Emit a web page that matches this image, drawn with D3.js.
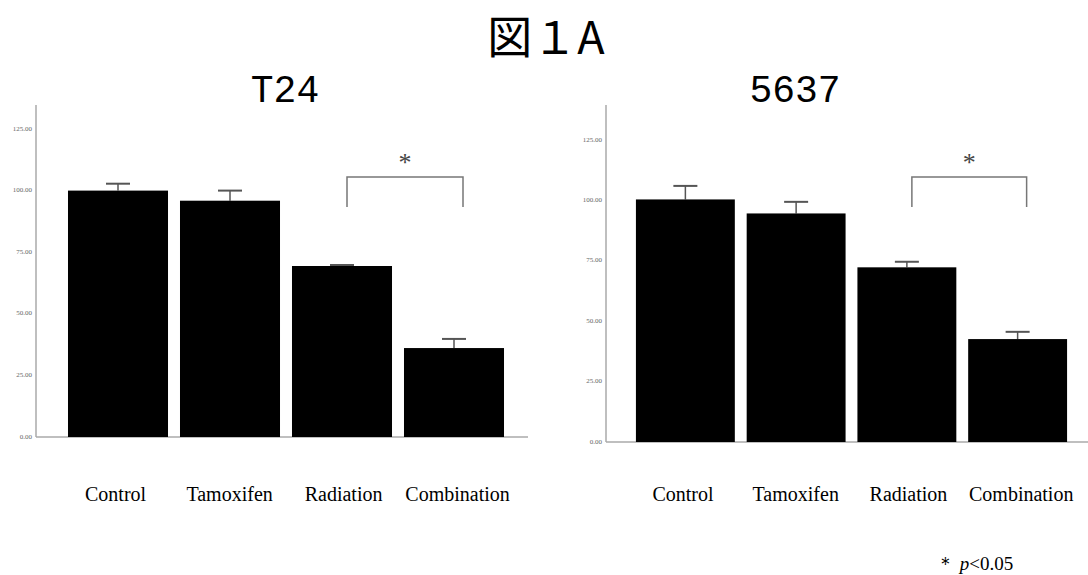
<!DOCTYPE html>
<html>
<head>
<meta charset="utf-8">
<script src="https://cdn.jsdelivr.net/npm/d3@7"></script>
<style>
  body { margin: 0; background: #fff; }
  svg { display: block; }
</style>
</head>
<body>
<div id="chart"></div>
<script>
// groups and values
const groups = ['Control', 'Tamoxifen', 'Radiation', 'Combination'];
const t24Means = [100, 95.9, 69.4, 36.1];
const t24Err = [2.8, 4.1, 0.4, 3.7];
const c5637Means = [100.4, 94.6, 72.3, 42.6];
const c5637Err = [5.6, 4.8, 2.3, 3.0];
const yTicks = [0, 25, 50, 75, 100, 125];

const W = 1088, H = 575;
const svg = d3.select('#chart').append('svg')
  .attr('width', W).attr('height', H);

const serif = '"Liberation Serif", "DejaVu Serif", serif';
const axisGray = '#aaaaaa';
const errGray = '#555555';

svg.append('text')
  .attr('x', 546).attr('y', 54)
  .attr('text-anchor', 'middle')
  .attr('font-family', '"Noto Sans CJK JP", sans-serif')
  .attr('font-size', '45px')
  .text('図１A');

const panels = [
  { title: 'T24', means: t24Means, err: t24Err, axisX: 36, x0: 62, x1: 510, y0: 437, y125: 129, titleX: 285 },
  { title: '5637', means: c5637Means, err: c5637Err, axisX: 606, x0: 630, x1: 1073, y0: 442, y125: 140, titleX: 795 }
];

panels.forEach(p => {
  const g = svg.append('g');

  const y = d3.scaleLinear().domain([0, 125]).range([p.y0, p.y125]);
  const x = d3.scaleBand().domain(groups).range([p.x0, p.x1])
    .paddingInner(0.107).paddingOuter(0.0535);

  g.append('text')
    .attr('x', p.titleX).attr('y', 102)
    .attr('text-anchor', 'middle')
    .attr('font-family', '"Liberation Mono", "DejaVu Sans Mono", monospace')
    .attr('font-size', '38px')
    .text(p.title);

  // y axis
  g.append('line')
    .attr('x1', p.axisX).attr('x2', p.axisX)
    .attr('y1', 105).attr('y2', p.y0)
    .attr('stroke', axisGray).attr('stroke-width', 1.5);

  yTicks.forEach(t => {
    g.append('text')
      .attr('x', p.axisX - 4).attr('y', y(t))
      .attr('text-anchor', 'end').attr('dominant-baseline', 'middle')
      .attr('font-family', serif).attr('font-size', '7px')
      .attr('fill', '#666')
      .text(t.toFixed(2));
  });

  // baseline
  g.append('line')
    .attr('x1', p.axisX).attr('x2', p.x1 + 18)
    .attr('y1', p.y0).attr('y2', p.y0)
    .attr('stroke', axisGray).attr('stroke-width', 1.5);

  groups.forEach((gr, i) => {
    const cx = x(gr) + x.bandwidth() / 2;
    const top = y(p.means[i] + p.err[i]);

    g.append('line')
      .attr('x1', cx).attr('x2', cx)
      .attr('y1', y(p.means[i])).attr('y2', top)
      .attr('stroke', errGray).attr('stroke-width', 1.5);
    g.append('line')
      .attr('x1', cx - 12).attr('x2', cx + 12)
      .attr('y1', top).attr('y2', top)
      .attr('stroke', errGray).attr('stroke-width', 2);

    g.append('rect')
      .attr('x', x(gr)).attr('y', y(p.means[i]))
      .attr('width', x.bandwidth()).attr('height', p.y0 - y(p.means[i]))
      .attr('fill', '#000');

    g.append('text')
      .attr('x', cx + (i - 1.2) * 2).attr('y', 501)
      .attr('text-anchor', 'middle')
      .attr('font-family', serif).attr('font-size', '20px')
      .text(gr);
  });

  // significance bracket between Radiation and Combination
  const bx1 = x('Radiation') + x.bandwidth() / 2 + 5;
  const bx2 = x('Combination') + x.bandwidth() / 2 + 9;
  const by = 177;
  g.append('path')
    .attr('d', `M${bx1},${by + 30}V${by}H${bx2}V${by + 30}`)
    .attr('fill', 'none').attr('stroke', '#777').attr('stroke-width', 1.5);
  g.append('text')
    .attr('x', (bx1 + bx2) / 2).attr('y', by - 6)
    .attr('text-anchor', 'middle')
    .attr('font-family', serif).attr('font-size', '26px')
    .attr('fill', '#444')
    .text('*');
});

const foot = svg.append('text')
  .attr('x', 936).attr('y', 570)
  .attr('font-family', serif).attr('font-size', '19px');
foot.append('tspan').text('＊ ');
foot.append('tspan').attr('font-style', 'italic').text('p');
foot.append('tspan').text('<0.05');
</script>
</body>
</html>
